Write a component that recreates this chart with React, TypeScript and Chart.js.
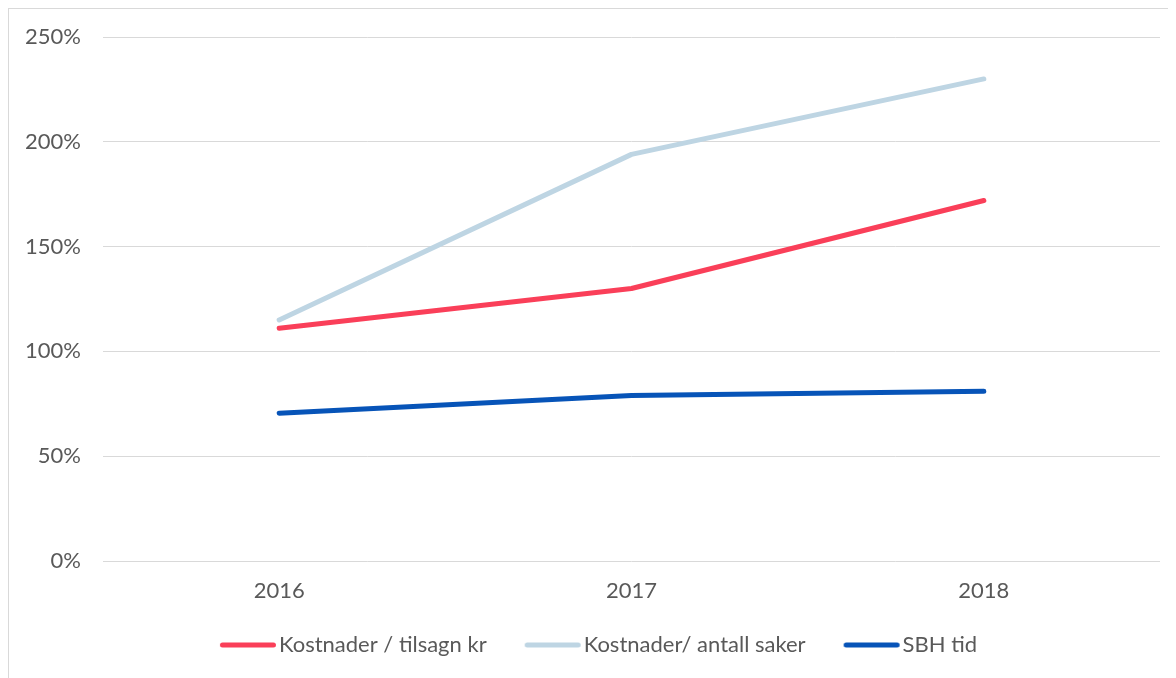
import React, { useEffect, useRef } from "react";
import { Chart, registerables } from "chart.js";

Chart.register(...registerables);

const categories = ["2016", "2017", "2018"];
const kostnaderTilsagn = [111, 130, 172];
const kostnaderSaker = [115, 194, 230];
const sbhTid = [70.5, 79, 81];
const yTicks = [0, 50, 100, 150, 200, 250];

const seriesLabels = ["Kostnader / tilsagn kr", "Kostnader/ antall saker", "SBH tid"];
const seriesColors = ["#FA3F59", "#BED5E3", "#0754B8"];

const FONT = "Lato, 'Open Sans', sans-serif";
const LEGEND_CENTER_Y = 636; // relative to canvas top
const LEGEND_PAD = 38;
const LEGEND_FONT = 22;
const LEGEND_BOX = 48;
const LEGEND_SHIFT_X = 14;

function legendLineImage(color: string) {
  const c = document.createElement("canvas");
  c.width = 110;
  c.height = 10;
  const ctx = c.getContext("2d")!;
  ctx.strokeStyle = color;
  ctx.lineWidth = 5;
  ctx.lineCap = "round";
  const start = c.width / 2 - LEGEND_BOX / 2;
  ctx.beginPath();
  ctx.moveTo(start + 2.5, 5);
  ctx.lineTo(start + 56 - 2.5, 5);
  ctx.stroke();
  return c;
}

const legendPlacer = {
  id: "legendPlacer",
  beforeLayout(chart: any) {
    const lg = chart.legend;
    if (lg && !lg.__patched) {
      const orig = lg.fit.bind(lg);
      lg.fit = function () {
        orig();
        this.height = 71;
      };
      lg.__patched = true;
    }
  },
  afterLayout(chart: any) {
    const lg = chart.legend;
    if (!lg) return;
    const top = LEGEND_CENTER_Y - LEGEND_FONT / 2 - LEGEND_PAD;
    const h = lg.bottom - lg.top;
    lg.top = top;
    lg.bottom = top + h;
    lg.left += LEGEND_SHIFT_X;
    lg.right += LEGEND_SHIFT_X;
  },
};

export default function App() {
  const ref = useRef<HTMLCanvasElement | null>(null);

  useEffect(() => {
    if (!ref.current) return;
    const series = [kostnaderTilsagn, kostnaderSaker, sbhTid];
    const images = seriesColors.map((c) => legendLineImage(c));
    const chart = new Chart(ref.current, {
      type: "line",
      data: {
        labels: categories,
        datasets: series.map((d, i) => ({
          label: seriesLabels[i],
          data: d,
          borderColor: seriesColors[i],
          backgroundColor: seriesColors[i],
          borderWidth: 5,
          borderCapStyle: "round",
          borderJoinStyle: "round",
          pointRadius: 0,
          tension: 0,
        })),
      },
      options: {
        animation: false,
        responsive: true,
        maintainAspectRatio: false,
        layout: { padding: { top: 28, right: 16, left: 0, bottom: 0 } },
        plugins: {
          tooltip: { enabled: false },
          legend: {
            position: "bottom",
            labels: {
              usePointStyle: true,
              pointStyleWidth: LEGEND_BOX,
              boxHeight: 5,
              color: "#595959",
              font: { family: FONT, size: LEGEND_FONT },
              padding: LEGEND_PAD,
              generateLabels: (ch: any) => {
                const items = (Chart as any).defaults.plugins.legend.labels.generateLabels(ch);
                return items.map((it: any, i: number) => ({ ...it, pointStyle: images[i] }));
              },
            },
          },
        },
        scales: {
          x: {
            offset: true,
            grid: { display: false, drawTicks: false },
            border: { display: false },
            ticks: {
              color: "#595959",
              font: { family: FONT, size: 22 },
              padding: 17,
            },
            afterFit: (s: any) => {
              s.height = 46;
            },
          },
          y: {
            min: 0,
            max: 250,
            afterBuildTicks: (s: any) => {
              s.ticks = yTicks.map((v) => ({ value: v }));
            },
            grid: { color: "#D9D9D9", lineWidth: 1, drawTicks: false },
            border: { display: false },
            ticks: {
              color: "#595959",
              font: { family: FONT, size: 22 },
              padding: 22,
              callback: (v: any) => v + "%",
            },
            afterFit: (s: any) => {
              s.width = 94;
              s.paddingTop = 0;
              s.paddingBottom = 0;
            },
          },
        },
      },
      plugins: [legendPlacer],
    });
    return () => chart.destroy();
  }, []);

  return (
    <div
      style={{
        width: 1167,
        height: 669,
        borderTop: "1px solid #D9D9D9",
        borderLeft: "1px solid #D9D9D9",
        position: "relative",
      }}
    >
      <canvas ref={ref} />
    </div>
  );
}
